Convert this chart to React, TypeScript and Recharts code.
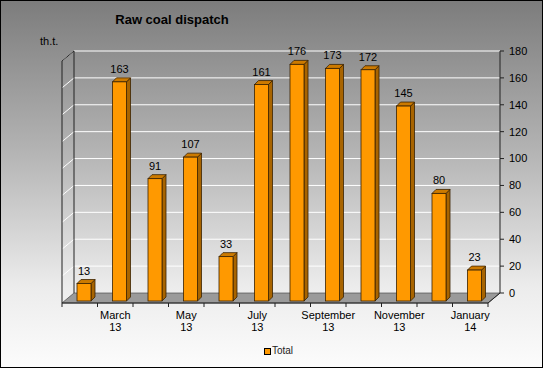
import React from 'react';
import { BarChart, Bar, XAxis, YAxis, CartesianGrid, Legend, LabelList, Customized } from 'recharts';

const months = ['February', 'March', 'April', 'May', 'June', 'July', 'August', 'September', 'October', 'November', 'December', 'January'];
const years = ['13', '13', '13', '13', '13', '13', '13', '13', '13', '13', '13', '14'];
const totals = [13, 163, 91, 107, 33, 161, 176, 173, 172, 145, 80, 23];
const yTicks = [0, 20, 40, 60, 80, 100, 120, 140, 160, 180];
const seriesName = 'Total';
const title = 'Raw coal dispatch';
const unitLabel = 'th.t.';

const data = months.map((m, i) => ({ name: `${m} ${years[i]}`, month: m, year: years[i], total: totals[i] }));

const W = 543;
const H = 368;
const FONT = '"Liberation Sans", Arial, sans-serif';
const MARGIN = { top: 51, right: 3, bottom: 10, left: 74 };
const YAXIS_W = 40;
const XAXIS_H = 51;
const LEGEND_H = 14;
const PLOT = {
  left: MARGIN.left,
  top: MARGIN.top,
  right: W - MARGIN.right - YAXIS_W,
  bottom: H - MARGIN.bottom - LEGEND_H - XAXIS_H,
};
const DEPTH_X = 12;
const DEPTH_Y = 10;
const BAR_DX = -8;
const BAR_DY = 8;
const SIDE = 4;

const FRONT = '#FF9900';
const SIDE_C = '#A86400';
const TOP_C = '#CC7A00';
const EDGE = '#3a2200';

const Frame = () => {
  const { left, top, right, bottom } = PLOT;
  const ph = bottom - top;
  const fl = left - DEPTH_X;
  const fb = bottom + DEPTH_Y;
  const fr = right - DEPTH_X;
  const n = totals.length;
  const step = (fr - fl) / n;
  const maxV = yTicks[yTicks.length - 1];
  return (
    <g>
      <polygon
        points={`${fl},${fb} ${fr},${fb} ${right},${bottom} ${left},${bottom}`}
        fill="#9a9a9a"
        stroke="#555"
        strokeWidth={0.8}
      />
      {yTicks.slice(1).map((t) => {
        const y = bottom - (t / maxV) * ph;
        return <line key={t} x1={left} y1={y} x2={fl} y2={y + DEPTH_Y} stroke="#ffffff" strokeWidth={1} />;
      })}
      <line x1={fl} y1={fb} x2={fl} y2={top + DEPTH_Y} stroke="#222" strokeWidth={1} />
      <line x1={fl} y1={top + DEPTH_Y} x2={left} y2={top} stroke="#222" strokeWidth={1} />
      <line x1={left} y1={top} x2={left} y2={bottom} stroke="#222" strokeWidth={1} />
      <line x1={fl} y1={fb} x2={fr} y2={fb} stroke="#222" strokeWidth={1} />
      <line x1={fr} y1={fb} x2={right} y2={bottom} stroke="#222" strokeWidth={1} />
      {Array.from({ length: n + 1 }).map((_, k) => (
        <line key={k} x1={fl + k * step} y1={fb} x2={fl + k * step} y2={fb + 4} stroke="#222" strokeWidth={1} />
      ))}
      <text x={172} y={24} textAnchor="middle" fontFamily={FONT} fontSize={13} fontWeight="bold" fill="#000">
        {title}
      </text>
      <text x={40} y={45} fontFamily={FONT} fontSize={11} fill="#000">
        {unitLabel}
      </text>
    </g>
  );
};

const BarShape = (props: any) => {
  const { x, y, width, height } = props;
  if (height == null || width == null) return null;
  const fx = x + BAR_DX;
  const fy = y + BAR_DY;
  return (
    <g>
      <polygon
        points={`${fx + width},${fy} ${fx + width + SIDE},${fy - SIDE} ${fx + width + SIDE},${fy + height - SIDE} ${fx + width},${fy + height}`}
        fill={SIDE_C}
        stroke={EDGE}
        strokeWidth={0.8}
      />
      <polygon
        points={`${fx},${fy} ${fx + SIDE},${fy - SIDE} ${fx + width + SIDE},${fy - SIDE} ${fx + width},${fy}`}
        fill={TOP_C}
        stroke={EDGE}
        strokeWidth={0.8}
      />
      <rect x={fx} y={fy} width={width} height={height} fill={FRONT} stroke={EDGE} strokeWidth={0.8} />
    </g>
  );
};

const BarLabel = (props: any) => {
  const { x, y, width, value } = props;
  return (
    <text x={x + BAR_DX + width / 2} y={y + BAR_DY - 9} textAnchor="middle" fontFamily={FONT} fontSize={11} fill="#000">
      {value}
    </text>
  );
};

const XTick = (props: any) => {
  const { x, index } = props;
  if (index % 2 === 0) return null;
  const d = data[index];
  const fx = x - DEPTH_X;
  const base = PLOT.bottom + DEPTH_Y;
  return (
    <g>
      <text x={fx} y={base + 16} textAnchor="middle" fontFamily={FONT} fontSize={11} fill="#000">
        {d.month}
      </text>
      <text x={fx} y={base + 28} textAnchor="middle" fontFamily={FONT} fontSize={11} fill="#000">
        {d.year}
      </text>
    </g>
  );
};

const LegendContent = (props: any) => {
  const items = props.payload || [];
  return (
    <div style={{ display: 'flex', justifyContent: 'center', height: LEGEND_H, alignItems: 'center', paddingLeft: 14 }}>
      {items.map((it: any) => (
        <div key={it.value} style={{ display: 'flex', alignItems: 'center' }}>
          <span style={{ display: 'inline-block', width: 5, height: 5, background: FRONT, border: '1px solid #000', marginRight: 1 }} />
          <span style={{ fontFamily: FONT, fontSize: 10, color: '#222', lineHeight: `${LEGEND_H}px` }}>{it.value}</span>
        </div>
      ))}
    </div>
  );
};

export default function App() {
  return (
    <div
      style={{
        position: 'absolute',
        left: 0,
        top: 0,
        width: W,
        height: H,
        background: 'linear-gradient(to bottom, #7c7c7c 0%, #b2b2b2 40%, #ececec 78%, #fcfcfc 100%)',
        boxShadow: 'inset 0 0 0 1px #000',
      }}
    >
      <BarChart width={W} height={H} data={data} margin={MARGIN} barSize={14}>
        <Customized component={<Frame />} />
        <CartesianGrid vertical={false} stroke="#ffffff" strokeWidth={1} />
        <XAxis
          dataKey="name"
          height={XAXIS_H}
          axisLine={false}
          tickLine={false}
          interval={0}
          tick={<XTick />}
        />
        <YAxis
          orientation="right"
          width={YAXIS_W}
          domain={[0, 180]}
          ticks={yTicks}
          interval={0}
          axisLine={{ stroke: '#222' }}
          tickLine={{ stroke: '#222' }}
          tickSize={4}
          tickMargin={5}
          tick={{ fontFamily: FONT, fontSize: 11, fill: '#000', textAnchor: 'start' }}
        />
        <Legend
          verticalAlign="bottom"
          height={LEGEND_H}
          wrapperStyle={{ left: 0, width: W, bottom: MARGIN.bottom }}
          content={<LegendContent />}
        />
        <Bar dataKey="total" name={seriesName} fill={FRONT} shape={<BarShape />} isAnimationActive={false}>
          <LabelList dataKey="total" content={<BarLabel />} />
        </Bar>
      </BarChart>
    </div>
  );
}
